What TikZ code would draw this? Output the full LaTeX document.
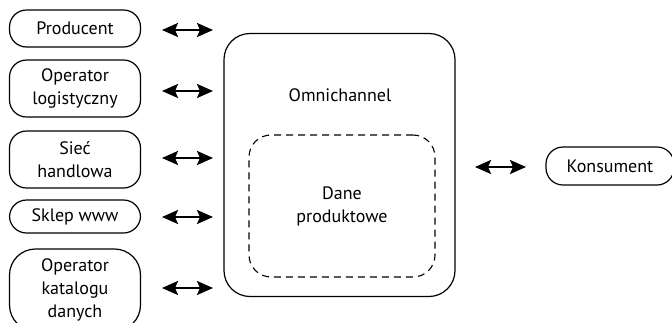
\documentclass[tikz,border=0pt]{standalone}
\usepackage{fontspec}
\setmainfont{PT Sans}
\usetikzlibrary{arrows.meta}
\begin{document}
\begin{tikzpicture}[x=1pt,y=-1pt,
  font=\fontsize{18}{23}\selectfont,
  party/.style={draw, line width=1.2pt, rounded corners=17pt, align=center,
    minimum width=131pt, inner sep=0pt},
  tip/.tip={Stealth[length=16pt,width=14pt,inset=3pt]},
  link/.style={line width=2pt, tip-tip},
  hub/.style={draw, line width=1.2pt, rounded corners=26pt, minimum width=231pt,
    minimum height=263pt, inner sep=0pt},
  core/.style={draw, line width=1.1pt, dashed, dash pattern=on 7pt off 5pt,
    rounded corners=22pt, minimum width=186pt, minimum height=142pt, inner sep=0pt, align=center}
]
\useasboundingbox (0,0) rectangle (672,322);
\begin{scope}
\clip (0,0) rectangle (672,322);
% channel participants on the left
\node[party, minimum height=37pt] (prod) at (75,28.5) {Producent};
\node[party, minimum height=57pt] (log) at (75,88.5) {Operator\\logistyczny};
\node[party, minimum height=57pt] (siec) at (75,159.5) {Sieć\\handlowa};
\node[party, minimum height=33pt] (www) at (75,216.5) {Sklep www};
\node[party, minimum height=82pt, rounded corners=26pt] (kat) at (75,290) {Operator\\katalogu\\danych};

% omnichannel hub with product data inside
\node[hub] (omni) at (339.5,165) {};
\node (omnil) at (340,95) {Omnichannel};
\node[core] (dane) at (342,206) {Dane\\produktowe};

% consumer on the right
\node[party, minimum width=128pt, minimum height=38pt] (kons) at (610,166) {Konsument};

% two-way links
\coordinate (a1l) at (162,30);  \coordinate (a1r) at (213,30);
\coordinate (a2l) at (162,91);  \coordinate (a2r) at (213,91);
\coordinate (a3l) at (162,158); \coordinate (a3r) at (213,158);
\coordinate (a4l) at (162,217); \coordinate (a4r) at (213,217);
\coordinate (a5l) at (162,288); \coordinate (a5r) at (213,288);
\coordinate (a6l) at (475,167); \coordinate (a6r) at (526,167);
\draw[link] (a1l) -- (a1r);
\draw[link] (a2l) -- (a2r);
\draw[link] (a3l) -- (a3r);
\draw[link] (a4l) -- (a4r);
\draw[link] (a5l) -- (a5r);
\draw[link] (a6l) -- (a6r);
\end{scope}
\end{tikzpicture}
\end{document}
